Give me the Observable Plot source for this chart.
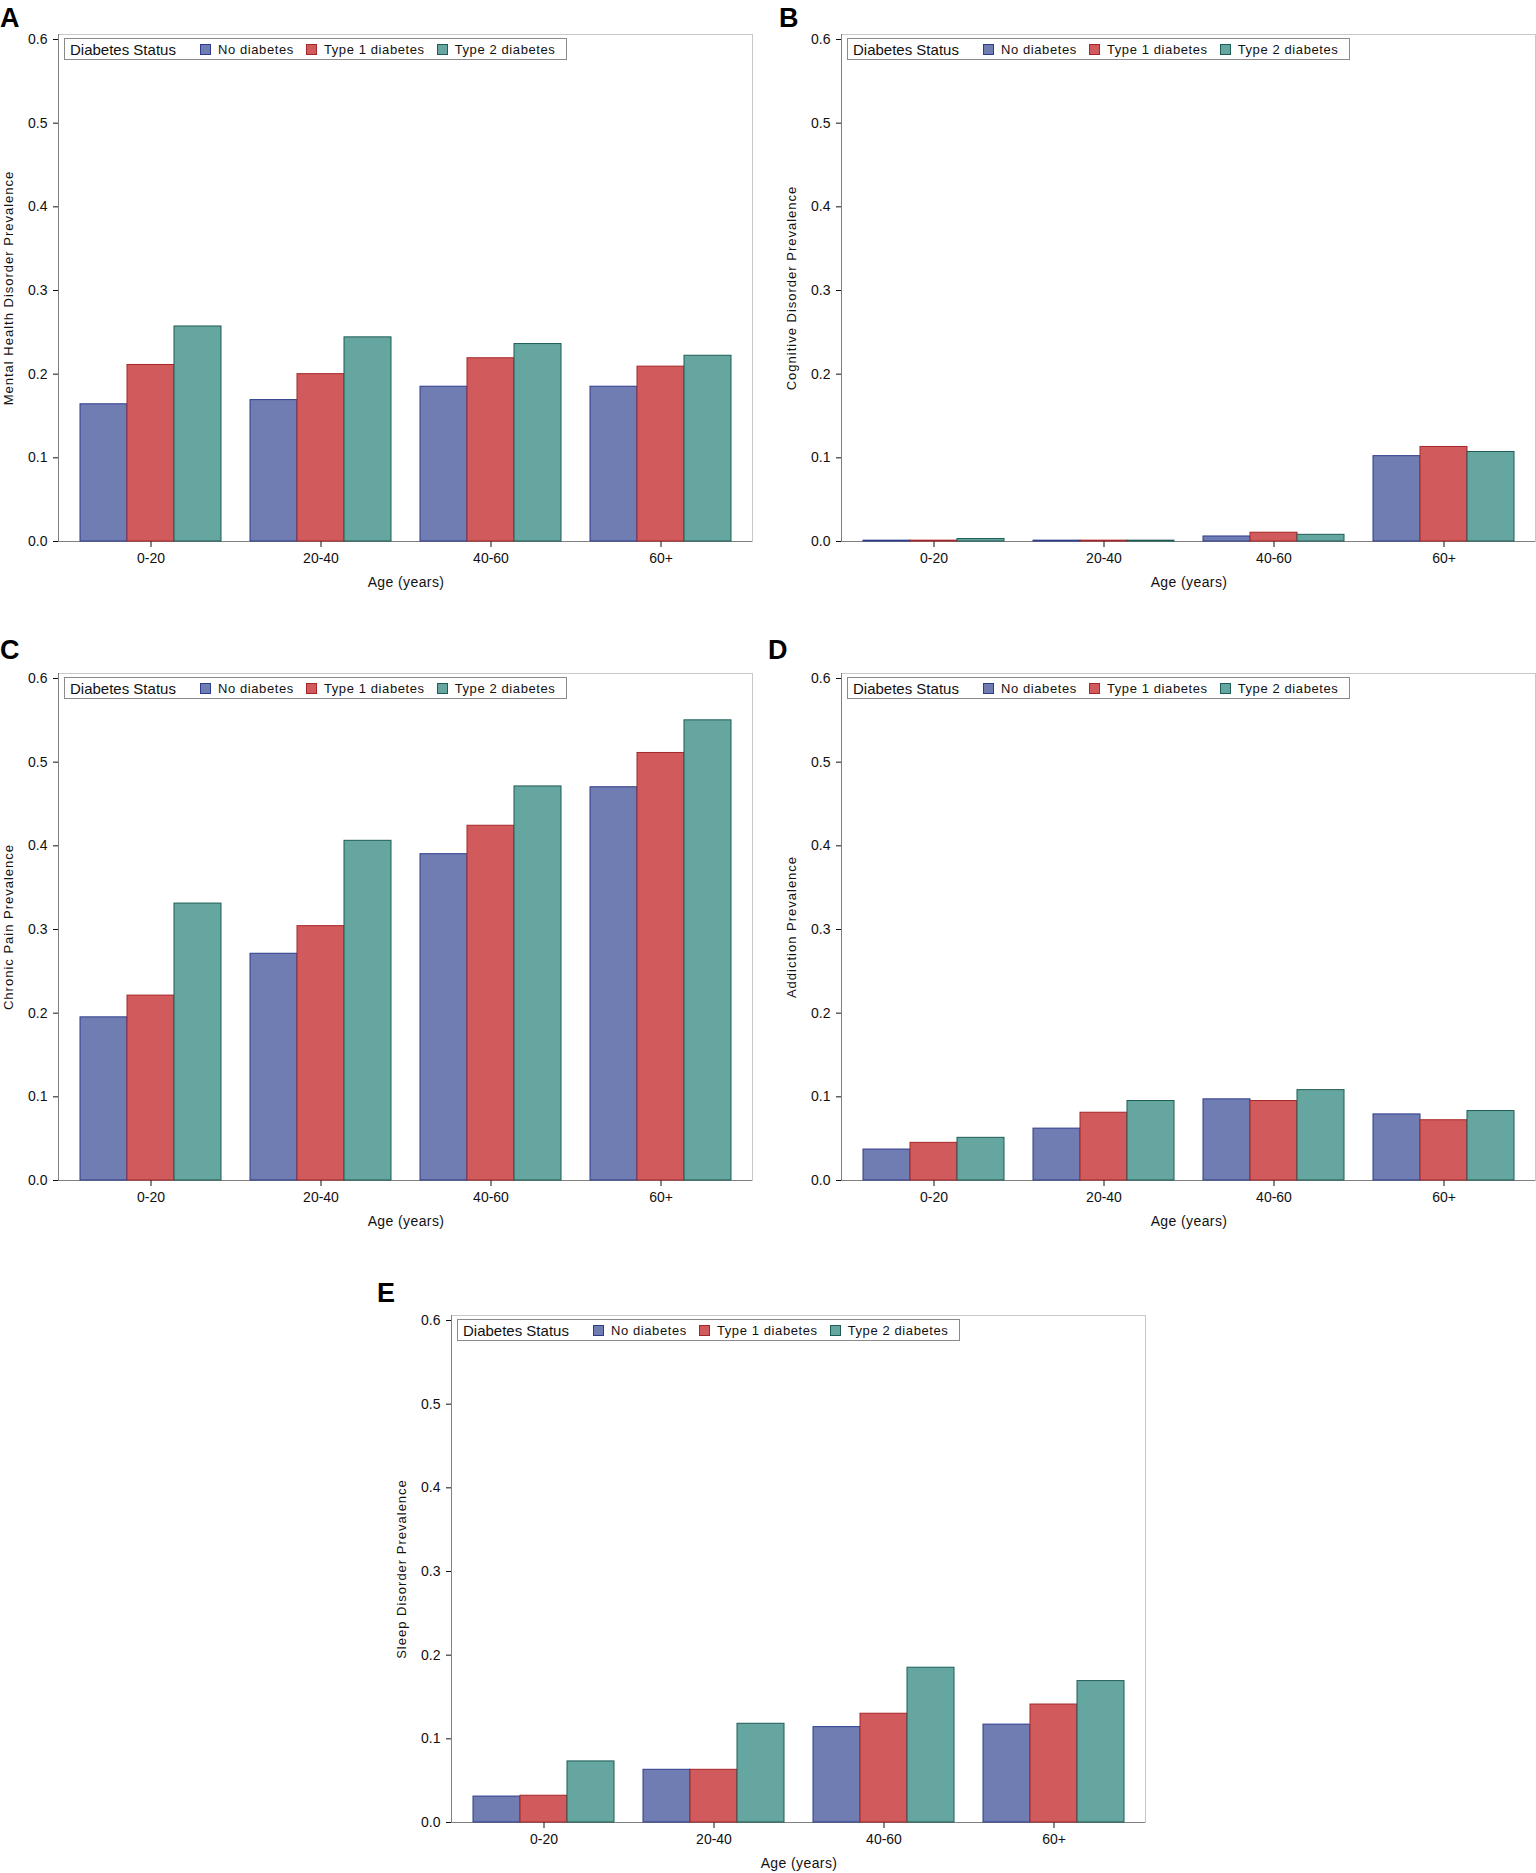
<!DOCTYPE html>
<html>
<head>
<meta charset="utf-8">
<script src="https://cdn.jsdelivr.net/npm/d3@7"></script>
<script src="https://cdn.jsdelivr.net/npm/@observablehq/plot@0.6"></script>
<style>
  html, body { margin: 0; padding: 0; background: #fff; overflow: hidden; }
  #page { position: relative; width: 1536px; height: 1873px; overflow: hidden; background: #fff; font-family: "Liberation Sans", Arial, sans-serif; }
  .panel { position: absolute; width: 768px; height: 600px; }
  .panel svg { position: absolute; left: 0; top: 0; }
  .letter { position: absolute; font: bold 27px "Liberation Sans", Arial, sans-serif; line-height: 1; color: #000; }
  .legend { position: absolute; height: 22px; border: 1px solid #8a8a8a; background: #fff; display: flex; flex-wrap: nowrap; align-items: center; box-sizing: border-box; color: #111; white-space: nowrap; overflow: hidden; }
  .legend span { flex: 0 0 auto; white-space: nowrap; line-height: 1; }
  .legend .ttl { font-size: 15px; margin-left: 5px; margin-right: 24px; }
  .legend .sw { width: 11px; height: 11px; border: 1px solid; margin-right: 7px; box-sizing: border-box; }
  .legend .it { font-size: 13px; letter-spacing: 0.6px; margin-right: 12px; }
  [aria-label="y-axis label"] text { letter-spacing: 1px; font-size: 13px; }
  [aria-label="fx-axis label"] text { letter-spacing: 0.4px; }
</style>
</head>
<body>
<div id="page"></div>
<script>
const ages = ["0-20", "20-40", "40-60", "60+"];
const statuses = ["No diabetes", "Type 1 diabetes", "Type 2 diabetes"];
const yTicks = [0, 0.1, 0.2, 0.3, 0.4, 0.5, 0.6];
const fillColors = ["#6f7db3", "#d15b5c", "#66a6a0"];
const strokeColors = ["#2e3c8c", "#a52628", "#1d5d55"];

// Panel A: Mental health disorder
const mentalNo = [0.164, 0.169, 0.185, 0.185];
const mentalT1 = [0.211, 0.200, 0.219, 0.209];
const mentalT2 = [0.257, 0.244, 0.236, 0.222];
// Panel B: Cognitive disorder
const cognitiveNo = [0.001, 0.001, 0.006, 0.102];
const cognitiveT1 = [0.001, 0.001, 0.0105, 0.113];
const cognitiveT2 = [0.003, 0.001, 0.008, 0.107];
// Panel C: Chronic pain
const painNo = [0.195, 0.271, 0.390, 0.470];
const painT1 = [0.221, 0.304, 0.424, 0.511];
const painT2 = [0.331, 0.406, 0.471, 0.550];
// Panel D: Addiction
const addictionNo = [0.037, 0.062, 0.097, 0.079];
const addictionT1 = [0.045, 0.081, 0.095, 0.072];
const addictionT2 = [0.051, 0.095, 0.108, 0.083];
// Panel E: Sleep disorder
const sleepNo = [0.031, 0.063, 0.114, 0.117];
const sleepT1 = [0.032, 0.063, 0.130, 0.141];
const sleepT2 = [0.073, 0.118, 0.185, 0.169];

const panels = [
  {letter: "A", yLabel: "Mental Health Disorder Prevalence", series: [mentalNo, mentalT1, mentalT2], left: 0, top: 0, letterLeft: 0, letterTop: 5},
  {letter: "B", yLabel: "Cognitive Disorder Prevalence", series: [cognitiveNo, cognitiveT1, cognitiveT2], left: 783, top: 0, letterLeft: -4, letterTop: 5},
  {letter: "C", yLabel: "Chronic Pain Prevalence", series: [painNo, painT1, painT2], left: 0, top: 639, letterLeft: 0, letterTop: -2},
  {letter: "D", yLabel: "Addiction Prevalence", series: [addictionNo, addictionT1, addictionT2], left: 783, top: 639, letterLeft: -15, letterTop: -2},
  {letter: "E", yLabel: "Sleep Disorder Prevalence", series: [sleepNo, sleepT1, sleepT2], left: 393, top: 1281, letterLeft: -16, letterTop: -1}
];

const W = 768, H = 600, ML = 58, MT = 34, MR = 16, MB = 59;
const font = {fontFamily: "'Liberation Sans', Arial, sans-serif", fontSize: "14px", background: "transparent", color: "#111", overflow: "visible"};

const page = document.getElementById("page");

function stripArrows(svg) {
  svg.querySelectorAll("text, tspan").forEach(t => {
    if (t.childNodes.length === 1 && t.firstChild.nodeType === 3) {
      t.textContent = t.textContent.replace(/\s*[↑↓←→]\s*/g, "");
    }
  });
}

for (const p of panels) {
  const div = document.createElement("div");
  div.className = "panel";
  div.style.left = p.left + "px";
  div.style.top = p.top + "px";

  const data = [];
  ages.forEach((a, i) => statuses.forEach((s, j) => data.push({age: a, status: s, value: p.series[j][i]})));

  // frame + y axis layer
  const back = Plot.plot({
    width: W, height: H, marginLeft: ML, marginTop: MT, marginRight: MR, marginBottom: MB,
    style: font,
    x: {domain: [0, 1], axis: null},
    y: {domain: [0, 0.6], insetTop: 5, ticks: yTicks, tickFormat: ".1f", tickSize: 5, tickPadding: 6,
        label: p.yLabel, labelAnchor: "center", labelOffset: 55, labelArrow: "none"},
    marks: [
      Plot.frame({stroke: "#c8c8c8"}),
      Plot.ruleX([0], {stroke: "#808080"}),
      Plot.ruleY([0], {stroke: "#808080"})
    ]
  });
  stripArrows(back);

  // bars
  const front = Plot.plot({
    width: W, height: H, marginLeft: ML, marginTop: MT, marginRight: MR, marginBottom: MB,
    style: font,
    fx: {domain: ages, paddingInner: 0.16, paddingOuter: 0.12, axis: "bottom", tickSize: 6, tickPadding: 6,
         label: "Age (years)", labelAnchor: "center", labelOffset: 45, labelArrow: "none"},
    x: {domain: statuses, padding: 0, axis: null},
    y: {domain: [0, 0.6], insetTop: 5, axis: null},
    marks: statuses.map((s, j) =>
      Plot.barY(data.filter(d => d.status === s), {
        fx: "age", x: "status", y: "value",
        fill: fillColors[j], stroke: strokeColors[j], strokeWidth: 1
      })
    )
  });
  stripArrows(front);

  div.appendChild(back);
  div.appendChild(front);

  const leg = document.createElement("div");
  leg.className = "legend";
  leg.style.left = (ML + 6) + "px";
  leg.style.top = (MT + 4) + "px";
  leg.style.width = "503px";
  const ttl = document.createElement("span");
  ttl.className = "ttl";
  ttl.textContent = "Diabetes Status";
  leg.appendChild(ttl);
  statuses.forEach((s, j) => {
    const sw = document.createElement("span");
    sw.className = "sw";
    sw.style.background = fillColors[j];
    sw.style.borderColor = strokeColors[j];
    const it = document.createElement("span");
    it.className = "it";
    it.textContent = s;
    leg.appendChild(sw);
    leg.appendChild(it);
  });
  div.appendChild(leg);

  const letter = document.createElement("div");
  letter.className = "letter";
  letter.textContent = p.letter;
  letter.style.left = p.letterLeft + "px";
  letter.style.top = p.letterTop + "px";
  div.appendChild(letter);

  page.appendChild(div);
}
</script>
</body>
</html>
